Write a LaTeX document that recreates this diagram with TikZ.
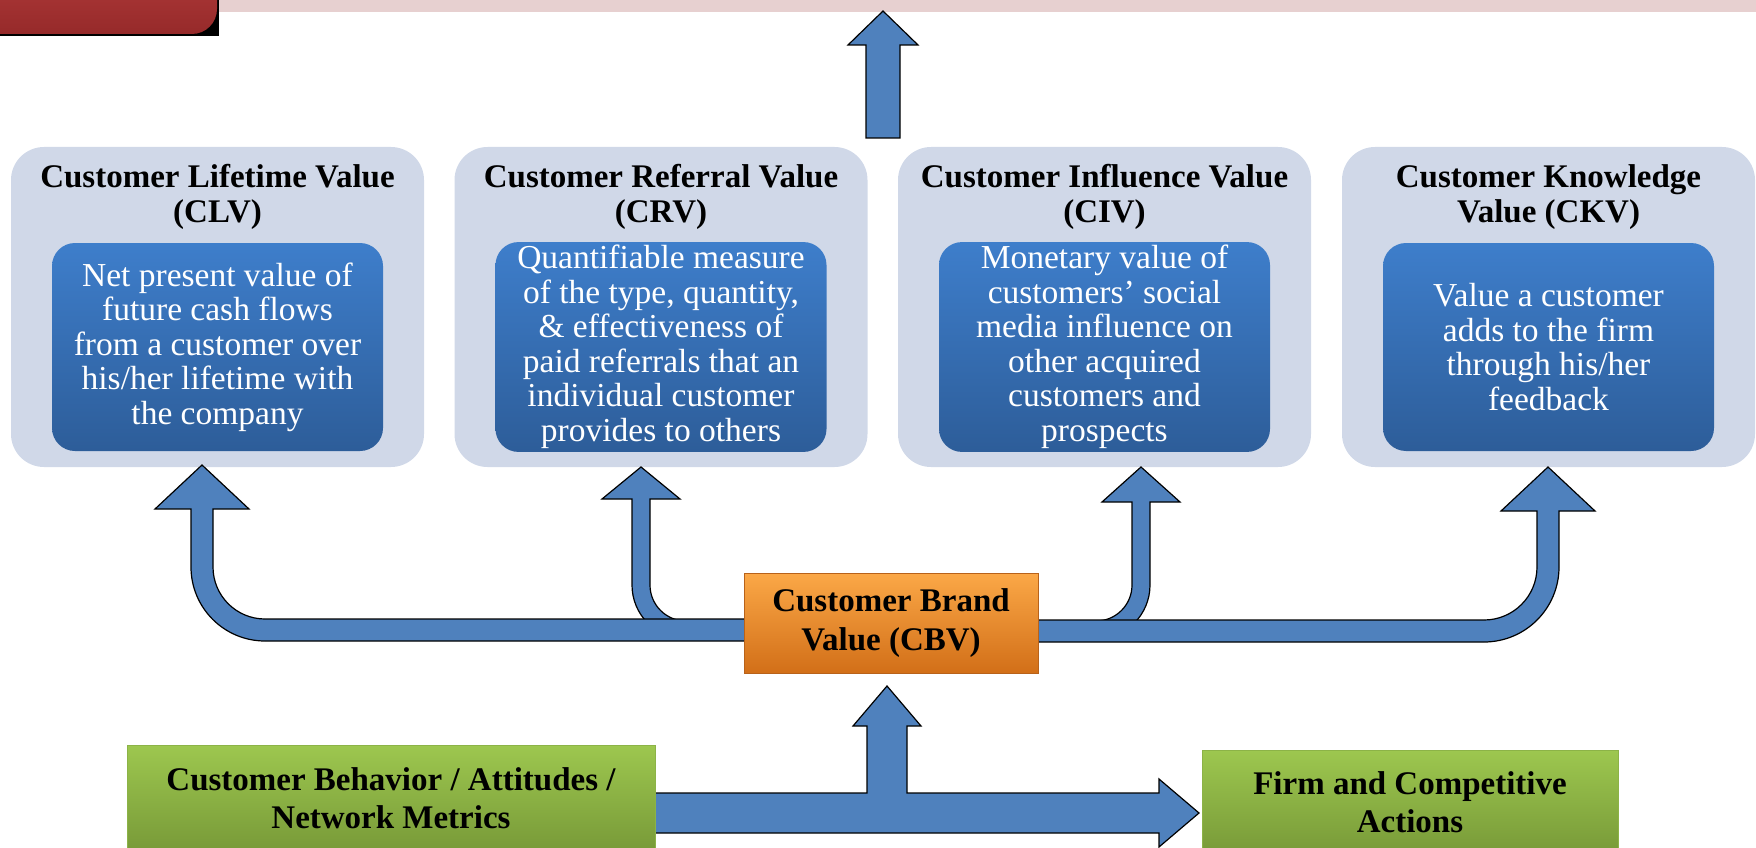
\documentclass[tikz,border=0pt]{standalone}
\usepackage{fontspec}
\setmainfont{Liberation Serif}

\definecolor{arrowblue}{HTML}{4F81BD}
\definecolor{boxgrey}{HTML}{D0D8E8}
\definecolor{detailtop}{HTML}{3E7ECB}
\definecolor{detailbot}{HTML}{2D5D99}
\definecolor{cbvtop}{HTML}{FBA847}
\definecolor{cbvmid}{HTML}{F7941D}
\definecolor{cbvbot}{HTML}{D26F18}
\definecolor{cbvline}{HTML}{B8621A}
\definecolor{greentop}{HTML}{9DC74F}
\definecolor{greenbot}{HTML}{789A38}
\definecolor{greenline}{HTML}{8CB347}
\definecolor{redtop}{HTML}{B33B3B}
\definecolor{redbot}{HTML}{962A2A}
\definecolor{pinkband}{HTML}{E7D0D0}

\tikzset{
  blockarrow/.style={fill=arrowblue, draw=black, line width=1.2pt, line join=miter},
  valuebox/.style={fill=boxgrey, rounded corners=33pt, minimum width=413pt, minimum height=320pt},
  detailbox/.style={top color=detailtop, bottom color=detailbot, rounded corners=23pt,
    minimum width=331pt, minimum height=208pt, text=white, align=center,
    font=\fontsize{33.5}{34.5}\selectfont},
  heading/.style={align=center, anchor=base, font=\bfseries\fontsize{33}{35}\selectfont},
  driverbox/.style={top color=greentop, bottom color=greenbot, draw=greenline, line width=1pt,
    align=center, font=\bfseries\fontsize{33}{38}\selectfont},
}

\begin{document}
\begin{tikzpicture}[x=1pt, y=-1pt]
  \useasboundingbox (0,0) rectangle (1756,848);

  % header strip
  \fill[black] (0,0) rectangle (219,36);
  \shade[top color=redtop, bottom color=redbot, rounded corners=25pt] (-40,-40) rectangle (217,34);
  \fill[pinkband] (219,0) rectangle (1756,12);
  \draw[blockarrow] (883,11) -- (918,45) -- (900,45) -- (900,138) -- (866,138) -- (866,45) -- (848,45) -- cycle;

  % the four value boxes
  \node[valuebox] (clv) at (217.5,307) {};
  \node[valuebox] (crv) at (661,307) {};
  \node[valuebox] (civ) at (1104.5,307) {};
  \node[valuebox] (ckv) at (1548.5,307) {};

  \node[heading] (clvtitle) at (217.5,222) {Customer Lifetime Value\\(CLV)};
  \node[heading] (crvtitle) at (661,222) {Customer Referral Value\\(CRV)};
  \node[heading] (civtitle) at (1104.5,222) {Customer Influence Value\\(CIV)};
  \node[heading] (ckvtitle) at (1548.5,222) {Customer Knowledge\\Value (CKV)};

  \node[detailbox] (clvtext) at (217.5,347) {Net present value of\\future cash flows\\from a customer over\\his/her lifetime with\\the company};
  \node[detailbox] (crvtext) at (661,347) {Quantifiable measure\\of the type, quantity,\\\& effectiveness of\\paid referrals that an\\individual customer\\provides to others};
  \node[detailbox] (civtext) at (1104.5,347) {Monetary value of\\customers’ social\\media influence on\\other acquired\\customers and\\prospects};
  \node[detailbox] (ckvtext) at (1548.5,347) {Value a customer\\adds to the firm\\through his/her\\feedback};

  % branches out of CBV
  \draw[blockarrow] (641,467) -- (680,499) -- (650,499) -- (650,585) arc[start angle=180, end angle=90, radius=36]
    -- (760,621) -- (760,639) -- (686,639) arc[start angle=90, end angle=180, radius=54] -- (632,499) -- (602,499) -- cycle;
  \draw[blockarrow] (1141,467) -- (1180,502) -- (1150,502) -- (1150,585) arc[start angle=0, end angle=90, radius=54]
    -- (1020,639) -- (1020,621) -- (1096,621) arc[start angle=90, end angle=0, radius=36] -- (1132,502) -- (1102,502) -- cycle;
  \draw[blockarrow] (202,465) -- (249,509) -- (213,509) -- (213,567) arc[start angle=180, end angle=90, radius=52]
    -- (760,619) -- (760,641) -- (265,641) arc[start angle=90, end angle=180, radius=74] -- (191,509) -- (155,509) -- cycle;
  \draw[blockarrow] (1548,467) -- (1595,511) -- (1559,511) -- (1559,567) arc[start angle=0, end angle=90, radius=75]
    -- (1020,642) -- (1020,620) -- (1484,620) arc[start angle=90, end angle=0, radius=53] -- (1537,511) -- (1501,511) -- cycle;

  \node[top color=cbvtop, middle color=cbvmid, bottom color=cbvbot, draw=cbvline, line width=1pt,
    minimum width=294pt, minimum height=100pt, align=center,
    font=\bfseries\fontsize{33}{39}\selectfont] (cbv) at (891,623) {Customer Brand\\Value (CBV)};

  % drivers
  \draw[blockarrow] (640,793) -- (867,793) -- (867,726) -- (853,726) -- (887,686) -- (921,726) -- (907,726) -- (907,793)
    -- (1159,793) -- (1159,779) -- (1199,813) -- (1159,847) -- (1159,833) -- (640,833) -- cycle;
  \node[driverbox, minimum width=528pt, minimum height=106pt] (behavior) at (391,798) {Customer Behavior / Attitudes /\\Network Metrics};
  \node[driverbox, minimum width=416pt, minimum height=104pt] (actions) at (1410,802) {Firm and Competitive\\Actions};
\end{tikzpicture}
\end{document}
